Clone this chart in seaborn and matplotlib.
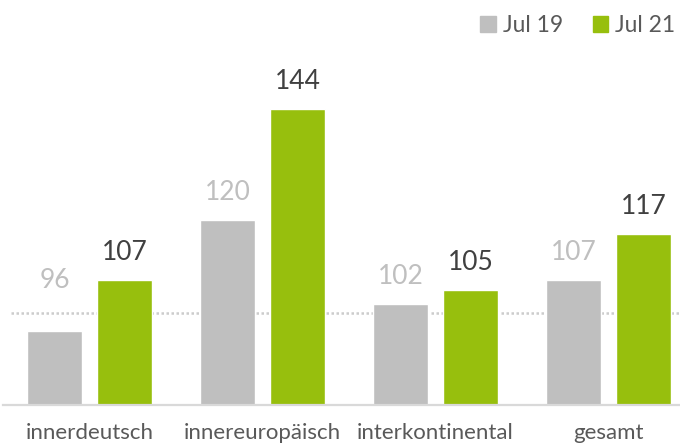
import pandas as pd
import matplotlib.pyplot as plt
import matplotlib.patches as mpatches
import seaborn as sns


categories = ["innerdeutsch", "innereuropäisch", "interkontinental", "gesamt"]
series = ["Jul 19", "Jul 21"]
jul19 = [96, 120, 102, 107]
jul21 = [107, 144, 105, 117]

df = pd.DataFrame({
    "kategorie": categories * 2,
    "zeitraum": [series[0]] * 4 + [series[1]] * 4,
    "wert": jul19 + jul21,
})

grey = "#bfbfbf"
green = "#97bf0d"
palette = {series[0]: grey, series[1]: green}
label_colors = ["#bfbfbf", "#404040"]

sns.set_style("white")
plt.rcParams["font.family"] = ["Lato", "DejaVu Sans"]

fig = plt.figure(figsize=(6.8, 4.48), dpi=100)
ax = fig.add_axes([3 / 680, 43 / 448, 677 / 680, 405 / 448])

# reference line at 100, behind the bars
ax.axhline(100, xmin=0.012, xmax=1, color="#cccccc", lw=1.8,
           ls=(0, (1, 1)), zorder=0)

sns.barplot(data=df, x="kategorie", y="wert", hue="zeitraum",
            order=categories, hue_order=series, palette=palette,
            width=0.809, gap=0.214, saturation=1, legend=False,
            ax=ax, zorder=2)

ax.set_ylim(80.1, 167.5)
ax.set_xlim(-0.5, 3.413)
ax.set_xlabel("")
ax.set_ylabel("")
ax.set_yticks([])
ax.tick_params(axis="x", length=0, pad=13, labelsize=16, labelcolor="#595959")
sns.despine(ax=ax, left=True)
ax.spines["bottom"].set_color("#d9d9d9")
ax.spines["bottom"].set_linewidth(1.6)

# value labels, kept clear of the 100 line
for cont, col in zip(ax.containers, label_colors):
    for bar in cont:
        v = bar.get_height()
        xc = bar.get_x() + bar.get_width() / 2
        ax.annotate(f"{v:.0f}", xy=(xc, max(v, 101)), xytext=(0, 19.8),
                    textcoords="offset points", ha="center", va="center",
                    fontsize=19, color=col)

handles = [mpatches.Patch(color=palette[s], label=s) for s in series]
fig.legend(handles=handles, loc="upper right", bbox_to_anchor=(1.015, 1.0),
           ncol=2, frameon=False, fontsize=16.5, handlelength=0.68,
           handleheight=0.68, handletextpad=0.3, columnspacing=1.3,
           borderpad=0.15, labelcolor="#595959")

plt.savefig("out.png", dpi=100)
plt.close()
